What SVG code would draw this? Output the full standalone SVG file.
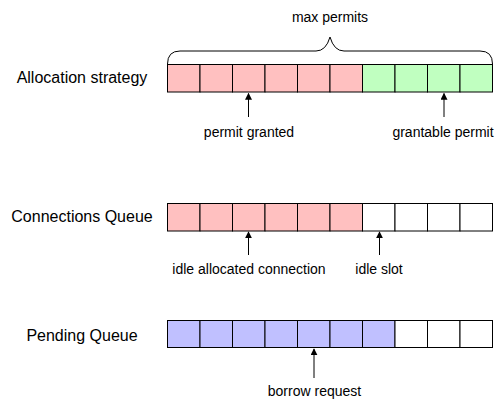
<svg xmlns="http://www.w3.org/2000/svg" width="504" height="409" viewBox="0 0 504 409">
<style>
.c{stroke:#000;stroke-width:1}
.r{fill:#FFC0C0}
.g{fill:#C0FFC0}
.b{fill:#C0C0FF}
.w{fill:#FFFFFF}
.big{font-family:"Liberation Sans",Arial,sans-serif;font-size:16px;fill:#000;text-anchor:middle}
.sm{font-family:"Liberation Sans",Arial,sans-serif;font-size:14px;fill:#000;text-anchor:middle}
.ln{stroke:#000;stroke-width:1;fill:none}
</style>
<defs>
<marker id="ah" viewBox="0 0 10 10" refX="9" refY="5" markerWidth="7" markerHeight="7" markerUnits="userSpaceOnUse" orient="auto">
<path d="M0,0 L10,5 L0,10 Z" fill="#000"/>
</marker>
</defs>
<rect width="504" height="409" fill="#fff"/>
<g id="label-allocation"><text class="big" x="82" y="83">Allocation strategy</text></g>
<g id="label-connections"><text class="big" x="82" y="222">Connections Queue</text></g>
<g id="label-pending"><text class="big" x="82" y="341">Pending Queue</text></g>
<g id="brace">
<path class="ln" stroke-width="1.5" d="M167.5,64 Q167.5,51 180,51 L316,51 Q326,51 330,37 Q334,51 344,51 L480,51 Q492.5,51 492.5,64"/>
<text class="sm" x="330" y="22">max permits</text>
</g>
<g id="allocation-strategy">
<rect class="c r" x="167.5" y="64.5" width="32.5" height="27.5"/>
<rect class="c r" x="200" y="64.5" width="32.5" height="27.5"/>
<rect class="c r" x="232.5" y="64.5" width="32.5" height="27.5"/>
<rect class="c r" x="265" y="64.5" width="32.5" height="27.5"/>
<rect class="c r" x="297.5" y="64.5" width="32.5" height="27.5"/>
<rect class="c r" x="330" y="64.5" width="32.5" height="27.5"/>
<rect class="c g" x="362.5" y="64.5" width="32.5" height="27.5"/>
<rect class="c g" x="395" y="64.5" width="32.5" height="27.5"/>
<rect class="c g" x="427.5" y="64.5" width="32.5" height="27.5"/>
<rect class="c g" x="460" y="64.5" width="32.5" height="27.5"/>
</g>
<g id="connections-queue">
<rect class="c r" x="167.5" y="203.5" width="32.5" height="27.5"/>
<rect class="c r" x="200" y="203.5" width="32.5" height="27.5"/>
<rect class="c r" x="232.5" y="203.5" width="32.5" height="27.5"/>
<rect class="c r" x="265" y="203.5" width="32.5" height="27.5"/>
<rect class="c r" x="297.5" y="203.5" width="32.5" height="27.5"/>
<rect class="c r" x="330" y="203.5" width="32.5" height="27.5"/>
<rect class="c w" x="362.5" y="203.5" width="32.5" height="27.5"/>
<rect class="c w" x="395" y="203.5" width="32.5" height="27.5"/>
<rect class="c w" x="427.5" y="203.5" width="32.5" height="27.5"/>
<rect class="c w" x="460" y="203.5" width="32.5" height="27.5"/>
</g>
<g id="pending-queue">
<rect class="c b" x="167.5" y="320.5" width="32.5" height="27"/>
<rect class="c b" x="200" y="320.5" width="32.5" height="27"/>
<rect class="c b" x="232.5" y="320.5" width="32.5" height="27"/>
<rect class="c b" x="265" y="320.5" width="32.5" height="27"/>
<rect class="c b" x="297.5" y="320.5" width="32.5" height="27"/>
<rect class="c b" x="330" y="320.5" width="32.5" height="27"/>
<rect class="c b" x="362.5" y="320.5" width="32.5" height="27"/>
<rect class="c w" x="395" y="320.5" width="32.5" height="27"/>
<rect class="c w" x="427.5" y="320.5" width="32.5" height="27"/>
<rect class="c w" x="460" y="320.5" width="32.5" height="27"/>
</g>
<g id="connectors">
<line class="ln" x1="248.5" y1="117" x2="248.5" y2="93.5" marker-end="url(#ah)"/>
<line class="ln" x1="444" y1="117" x2="444" y2="93.5" marker-end="url(#ah)"/>
<line class="ln" x1="248.5" y1="255" x2="248.5" y2="232" marker-end="url(#ah)"/>
<line class="ln" x1="379.5" y1="255" x2="379.5" y2="232" marker-end="url(#ah)"/>
<line class="ln" x1="314" y1="378" x2="314" y2="349" marker-end="url(#ah)"/>
</g>
<g id="label-permit-granted"><text class="sm" x="249" y="137">permit granted</text></g>
<g id="label-grantable-permit"><text class="sm" x="443" y="137">grantable permit</text></g>
<g id="label-idle-allocated"><text class="sm" x="249" y="274">idle allocated connection</text></g>
<g id="label-idle-slot"><text class="sm" x="379" y="274">idle slot</text></g>
<g id="label-borrow-request"><text class="sm" x="314.5" y="396">borrow request</text></g>
</svg>
